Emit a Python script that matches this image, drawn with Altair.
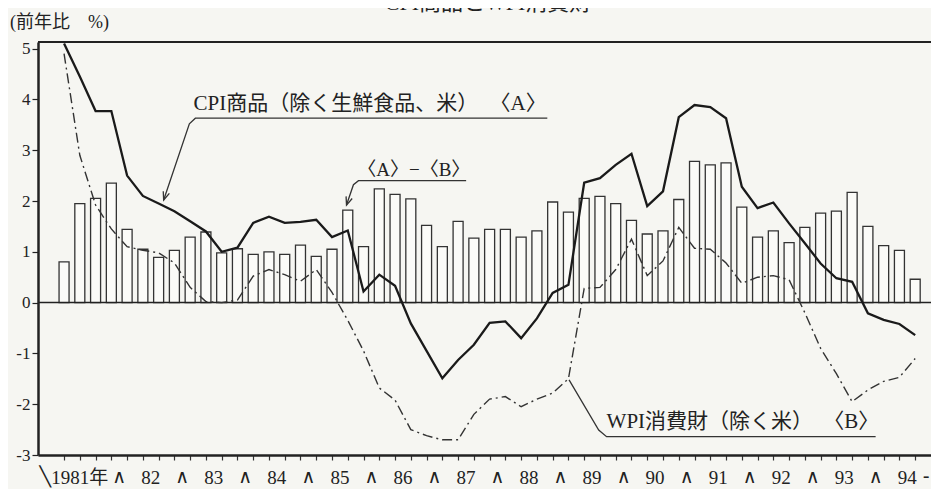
import altair as alt
import pandas as pd

# ---------------- data (quarterly, 1981Q1 .. 1994Q3) ----------------
quarters = list(range(55))

# <A>-<B> bars
diff_ab = [0.80, 1.95, 2.05, 2.35, 1.44, 1.05, 0.89, 1.03, 1.29, 1.39,
           0.98, 1.06, 0.95, 1.00, 0.95, 1.13, 0.91, 1.05, 1.82, 1.10,
           2.24, 2.13, 2.04, 1.52, 1.10, 1.60, 1.27, 1.44, 1.44, 1.29,
           1.41, 1.98, 1.78, 2.05, 2.09, 1.95, 1.62, 1.35, 1.41, 2.03,
           2.78, 2.71, 2.75, 1.88, 1.29, 1.41, 1.18, 1.48, 1.76, 1.80,
           2.17, 1.50, 1.12, 1.03, 0.46]

# CPI goods (excl. fresh food, rice) <A>
cpi = [5.10, 4.45, 3.77, 3.77, 2.50, 2.10, 1.95, 1.80, 1.60, 1.40,
       1.00, 1.08, 1.57, 1.69, 1.57, 1.59, 1.63, 1.29, 1.42, 0.22,
       0.55, 0.33, -0.41, -0.95, -1.49, -1.13, -0.83, -0.40, -0.37, -0.70,
       -0.31, 0.19, 0.35, 2.36, 2.45, 2.71, 2.93, 1.90, 2.19, 3.65,
       3.89, 3.85, 3.63, 2.28, 1.86, 1.97, 1.56, 1.17, 0.77, 0.48,
       0.41, -0.21, -0.34, -0.42, -0.64]

# WPI consumer goods (excl. rice) <B>
wpi = [4.90, 2.90, 1.92, 1.45, 1.10, 1.03, 0.98, 0.78, 0.30, 0.02,
       0.00, 0.05, 0.52, 0.65, 0.55, 0.42, 0.65, 0.20, -0.35, -0.95,
       -1.68, -1.92, -2.50, -2.62, -2.70, -2.70, -2.20, -1.90, -1.85, -2.05,
       -1.90, -1.78, -1.50, 0.28, 0.30, 0.65, 1.25, 0.53, 0.82, 1.48,
       1.07, 1.05, 0.78, 0.38, 0.50, 0.53, 0.45, -0.20, -0.90, -1.40,
       -1.95, -1.72, -1.55, -1.47, -1.10]

year_labels = ["1981年", "82", "83", "84", "85", "86", "87", "88", "89",
               "90", "91", "92", "93", "94"]
year_label_pos = [1.0, 5.5, 9.5, 13.5, 17.5, 21.5, 25.5, 29.5, 33.5,
                  37.5, 41.5, 45.5, 49.5, 53.5]
bracket_marks = ["╲"] + ["∧"] * 13 + ["-"]
bracket_pos = [-1.2, 3.5, 7.5, 11.5, 15.5, 19.5, 23.5, 27.5, 31.5,
               35.5, 39.5, 43.5, 47.5, 51.5, 54.7]

y_ticks = [-3, -2, -1, 0, 1, 2, 3, 4, 5]

ann_texts = ["CPI商品（除く生鮮食品、米）", "〈A〉", "〈A〉−〈B〉",
             "WPI消費財（除く米）", "〈B〉"]
ann_x = [8.21, 27.0, 18.6, 34.42, 48.16]
ann_y = [3.91, 3.91, 2.61, -2.35, -2.35]
ann_size = [21, 21, 19, 21, 21]

leader_id = [1, 1, 1, 1, 2, 2, 2, 2, 3, 3, 3, 3]
leader_ord = [0, 1, 2, 3, 0, 1, 2, 3, 0, 1, 2, 3]
leader_x = [30.66, 8.33, 7.95, 6.32, 25.51, 18.68, 18.36, 17.92,
            51.49, 34.42, 33.92, 32.04]
leader_y = [3.63, 3.63, 3.52, 2.02, 2.40, 2.40, 2.32, 1.92,
            -2.64, -2.64, -2.51, -1.52]

arrow_x = [6.32, 17.92]
arrow_y = [2.02, 1.92]

# ---------------- layout / style ----------------
W, H = 893, 413
FONT = "Liberation Serif, Noto Sans CJK JP"
INK = "#222222"
BG = "#f6f6f2"

xs = alt.Scale(domain=[-1.336, 54.686], nice=False, zero=False)
ys = alt.Scale(domain=[-3, 5.13], nice=False, zero=False)

x_axis = alt.Axis(values=quarters, labels=False, tickSize=5, tickWidth=1.2,
                  tickColor="#333333", domainWidth=2.5, domainColor=INK,
                  grid=False, title=None)
y_axis = alt.Axis(values=y_ticks, tickSize=6, tickWidth=1.2, tickColor=INK,
                  labelFont=FONT, labelFontSize=17, labelColor=INK,
                  labelExpr="'' + datum.value",
                  labelPadding=2, domainWidth=2.5, domainColor=INK,
                  grid=False, title=None)


def X(field):
    return alt.X(field, scale=xs, axis=x_axis)


def Y(field):
    return alt.Y(field, scale=ys, axis=y_axis)


df = pd.DataFrame({"i": quarters, "diff": diff_ab, "cpi": cpi, "wpi": wpi})

bars = alt.Chart(df).mark_bar(
    size=10, fill="#fbfbf8", stroke="#333333", strokeWidth=1.3, orient="vertical"
).encode(x=X("i:Q"), y=Y("diff:Q"))

zero = alt.Chart(pd.DataFrame({"z": [0]})).mark_rule(
    color=INK, strokeWidth=1.5
).encode(y=Y("z:Q"))

top_rule = alt.Chart(pd.DataFrame({"z": [0]})).mark_rule(
    color=INK, strokeWidth=2.2
).encode(x=alt.value(0), x2=alt.value(W), y=alt.value(0))

cpi_line = alt.Chart(df).mark_line(
    color="#1a1a1a", strokeWidth=2.3, clip=True
).encode(x=X("i:Q"), y=Y("cpi:Q"))

wpi_line = alt.Chart(df).mark_line(
    color="#333333", strokeWidth=1.4, strokeDash=[10, 4, 2, 4], clip=True
).encode(x=X("i:Q"), y=Y("wpi:Q"))

ann_df = pd.DataFrame({"t": ann_texts, "x": ann_x, "y": ann_y, "s": ann_size})
ann = alt.Chart(ann_df).mark_text(
    align="left", baseline="middle", font=FONT, color=INK
).encode(x=X("x:Q"), y=Y("y:Q"),
         size=alt.Size("s:Q", scale=None, legend=None),
         text="t:N")

lead_df = pd.DataFrame({"g": leader_id, "o": leader_ord, "x": leader_x, "y": leader_y})
leaders = alt.Chart(lead_df).mark_line(
    color="#333333", strokeWidth=1.3
).encode(x=X("x:Q"), y=Y("y:Q"), detail="g:N", order="o:Q")

arrow_df = pd.DataFrame({"x": arrow_x, "y": arrow_y})
arrows = alt.Chart(arrow_df).mark_point(
    shape="M-0.4,-1L0,0L0.4,-1", size=260, angle=19, filled=False,
    stroke="#333333", strokeWidth=1.3, opacity=1
).encode(x=X("x:Q"), y=Y("y:Q"))

yl_df = pd.DataFrame({"t": year_labels, "x": year_label_pos})
year_text = alt.Chart(yl_df).mark_text(
    font=FONT, fontSize=19, baseline="middle", align="center", color=INK
).encode(x=X("x:Q"), y=alt.value(436), text="t:N")

br_df = pd.DataFrame({"t": bracket_marks, "x": bracket_pos})
bracket_text = alt.Chart(br_df).mark_text(
    font="DejaVu Sans", fontSize=19, baseline="middle", align="center", color=INK
).encode(x=X("x:Q"), y=alt.value(435), text="t:N")

unit_text = alt.Chart(pd.DataFrame({"t": ["(前年比　%)"]})).mark_text(
    font=FONT, fontSize=18, align="left", baseline="middle", color=INK
).encode(x=alt.value(-28), y=alt.value(-19), text="t:N")

title_text = alt.Chart(pd.DataFrame({"t": ["CPI商品とWPI消費財"]})).mark_text(
    font=FONT, fontSize=22, align="center", baseline="bottom", color=INK
).encode(x=alt.value(450), y=alt.value(-27), text="t:N")

chart = alt.layer(
    bars, zero, top_rule, wpi_line, cpi_line, leaders, arrows, ann,
    year_text, bracket_text, unit_text, title_text
).properties(
    width=W, height=H,
    autosize=alt.AutoSizeParams(type="none"),
    padding={"left": 30, "top": 34, "right": 0, "bottom": 34},
    background=BG,
).configure_view(stroke=None)

chart.save("out.html", embed_options={"renderer": "svg", "actions": False})
